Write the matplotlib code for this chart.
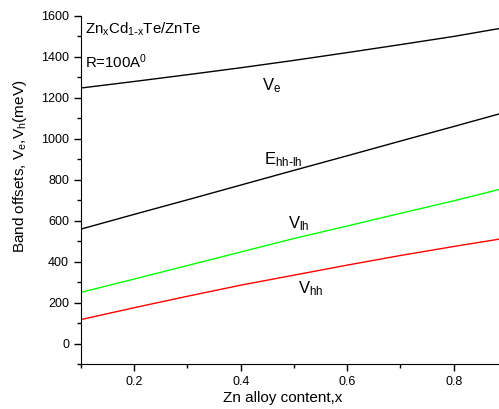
import matplotlib
matplotlib.use("Agg")
import matplotlib.pyplot as plt
from matplotlib.ticker import MultipleLocator

plt.rcParams['font.family'] = ['Liberation Sans', 'DejaVu Sans']
plt.rcParams['mathtext.default'] = 'regular'

# Zn content and band offsets (meV)
x = [0.1, 0.2, 0.3, 0.4, 0.5, 0.6, 0.7, 0.8, 0.9]
v_e = [1248, 1280, 1313, 1347, 1383, 1421, 1460, 1500, 1545]
e_hh_lh = [559, 631, 702, 774, 846, 917, 989, 1060, 1132]
v_lh = [250, 315, 381, 447, 513, 574, 636, 697, 762]
v_hh = [117, 175, 231, 285, 334, 383, 430, 474, 516]

fig = plt.figure(figsize=(4.99, 4.09), dpi=100)
ax = fig.add_axes([0.1623, 0.110, 0.8537, 0.851])

ax.plot(x, v_e, color='black', lw=1)
ax.plot(x, e_hh_lh, color='black', lw=1)
ax.plot(x, v_lh, color='#00ff00', lw=1)
ax.plot(x, v_hh, color='red', lw=1)

ax.set_xlim(0.1, 0.9)
ax.set_ylim(-100, 1600)
ax.xaxis.set_major_locator(MultipleLocator(0.2))
ax.xaxis.set_minor_locator(MultipleLocator(0.1))
ax.yaxis.set_major_locator(MultipleLocator(200))
ax.yaxis.set_minor_locator(MultipleLocator(100))
ax.set_xticks([0.2, 0.4, 0.6, 0.8])
ax.tick_params(which='major', direction='out', length=5, width=1, labelsize=9)
ax.tick_params(which='minor', direction='out', length=3, width=1)
for s in ['top', 'right']:
    ax.spines[s].set_visible(False)

ax.set_xlabel('Zn alloy content,x', fontsize=11)
ax.set_ylabel('Band offsets, V$_e$,V$_h$(meV)', fontsize=11)
ax.xaxis.set_label_coords(0.474, -0.078)
ax.yaxis.set_label_coords(-0.122, 0.569)

ax.text(0.108, 1533, r'Zn$_x$Cd$_{1\text{-}x}$Te/ZnTe', fontsize=10.8, va='center')
ax.text(0.108, 1378, 'R=100A$^0$', fontsize=10.8, va='center')
ax.text(0.44, 1262, 'V$_e$', fontsize=12, va='center')
ax.text(0.444, 900, r'E$_{hh\text{-}lh}$', fontsize=12, va='center')
ax.text(0.489, 585, 'V$_{lh}$', fontsize=12, va='center')
ax.text(0.507, 268, 'V$_{hh}$', fontsize=12, va='center')

fig.savefig('out.png', dpi=100)
